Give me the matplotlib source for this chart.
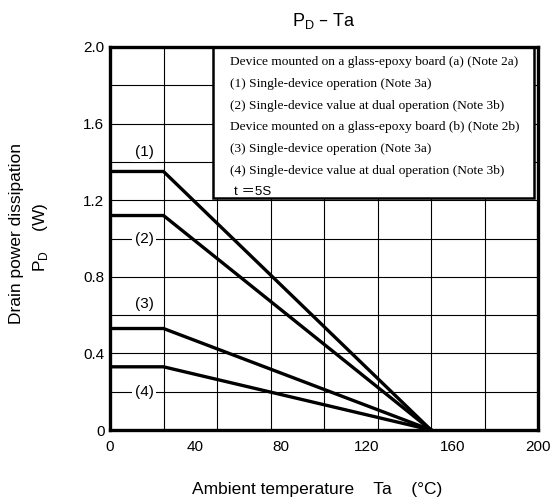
import matplotlib.pyplot as plt
import numpy as np

# derating curves: flat up to the knee, then straight down to 150 C
ta_points = [0, 25, 150]
pd_max = [1.35, 1.12, 0.53, 0.33]
curve_names = ["(1)", "(2)", "(3)", "(4)"]
label_y = [1.45, 1.0, 0.66, 0.2]

legend_lines = [
    "Device mounted on a glass-epoxy board (a) (Note 2a)",
    "(1) Single-device operation (Note 3a)",
    "(2) Single-device value at dual operation (Note 3b)",
    "Device mounted on a glass-epoxy board (b) (Note 2b)",
    "(3) Single-device operation (Note 3a)",
    "(4) Single-device value at dual operation (Note 3b)",
]

x_ticks = [0, 40, 80, 120, 160, 200]
y_ticks = [0, 0.4, 0.8, 1.2, 1.6, 2.0]
y_tick_labels = ["0", "0.4", "0.8", "1.2", "1.6", "2.0"]

plt.rcParams["font.family"] = ["Liberation Sans", "DejaVu Sans"]

fig = plt.figure(figsize=(5.54, 5.0), dpi=100)
ax = fig.add_axes([110 / 554, 70 / 500, 428 / 554, 383 / 500])

ax.set_xlim(0, 200)
ax.set_ylim(0, 2.0)

# grid every 25 C and 0.2 W
for gx in np.arange(25, 200, 25):
    ax.axvline(gx, color="black", lw=0.8, zorder=1)
for gy in np.arange(0.2, 2.0, 0.2):
    ax.axhline(gy, color="black", lw=0.8, zorder=1)

for p in pd_max:
    ax.plot(ta_points, [p, p, 0], color="black", lw=2.4, solid_joinstyle="miter", zorder=3)

for name, ly in zip(curve_names, label_y):
    ax.text(16, ly, name, ha="center", va="center", fontsize=11,
            bbox=dict(facecolor="white", edgecolor="none", pad=2), zorder=4)

# legend box
ax.add_patch(plt.Rectangle((48, 1.21), 150, 0.79, facecolor="white",
                           edgecolor="black", lw=1.8, zorder=5))
for i, line in enumerate(legend_lines):
    ax.text(56, 1.92 - i * 0.113, line, family="Liberation Serif", fontsize=9.6,
            va="center", ha="left", zorder=6)
ax.text(58, 1.92 - 6 * 0.113, "t \uff1d5S", family=["Liberation Sans", "Noto Sans CJK JP"],
        fontsize=9.6, va="center", ha="left", zorder=6)

for s in ax.spines.values():
    s.set_linewidth(2.4)
    s.set_zorder(7)

ax.set_xticks(x_ticks)
ax.set_yticks(y_ticks)
ax.set_yticklabels(y_tick_labels)
ax.tick_params(length=0, labelsize=11)
ax.tick_params(axis="x", pad=7)
ax.tick_params(axis="y", pad=4)

ax.set_title("P$_\\mathregular{D}$ \u2013 Ta", fontsize=13, pad=15)
ax.set_xlabel("Ambient temperature    Ta    (\u00b0C)", fontsize=12.5)
ax.xaxis.set_label_coords(0.483, -0.135)
fig.text(17 / 554, 1 - 234 / 500, "Drain power dissipation", rotation=90,
         ha="center", va="center", fontsize=12.5)
fig.text(41 / 554, 1 - 237 / 500, "P$_\\mathregular{D}$    (W)", rotation=90,
         ha="center", va="center", fontsize=12.5)

fig.savefig("out.png", dpi=100)
